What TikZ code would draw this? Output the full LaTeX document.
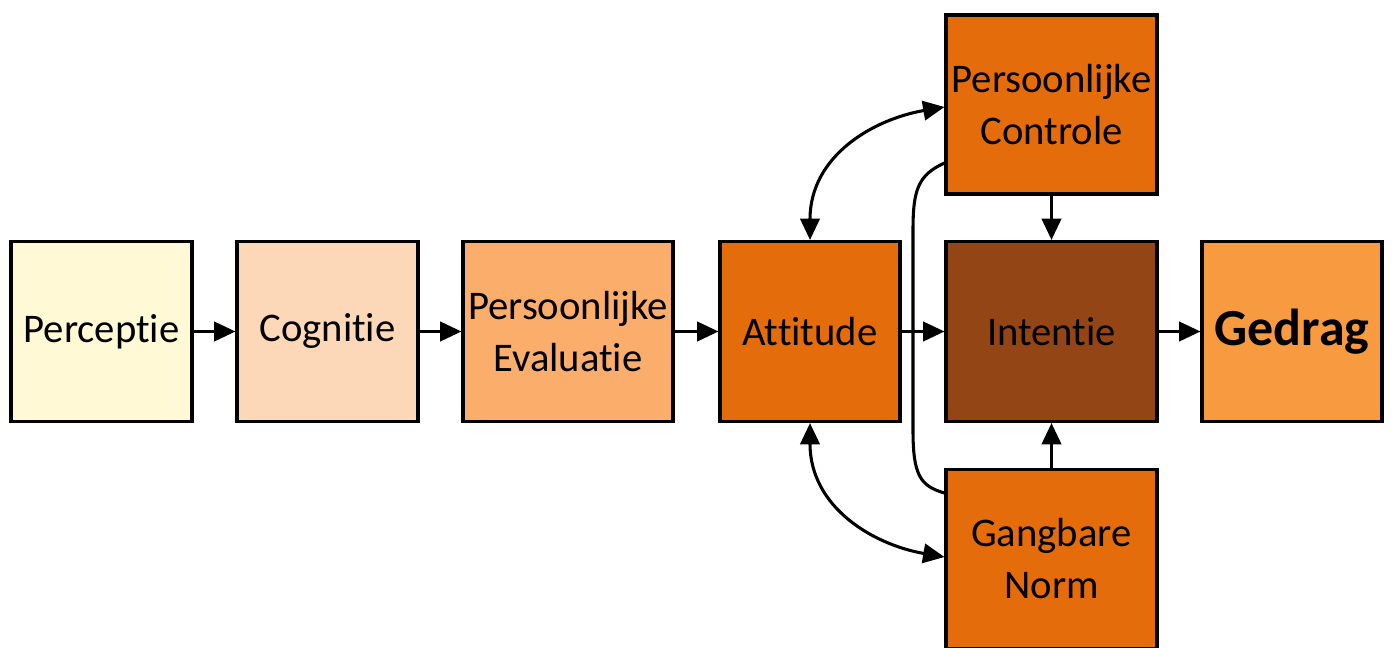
\documentclass[tikz,border=0pt]{standalone}
\usepackage{fontspec}
\setmainfont{Carlito}[RawFeature={-liga;-clig;-calt;-dlig}]
\usetikzlibrary{arrows.meta}
\definecolor{cPer}{HTML}{FFF9D6}
\definecolor{cCog}{HTML}{FCD7B8}
\definecolor{cEva}{HTML}{FBAD6C}
\definecolor{cAtt}{HTML}{E46C0A}
\definecolor{cInt}{HTML}{934516}
\definecolor{cGed}{HTML}{F79A40}
\tikzset{
  box/.style={draw=black, line width=2.3pt, inner sep=0pt, align=center,
    font=\fontsize{30.5}{39}\selectfont, minimum height=135pt},
  arr/.style={line width=2.3pt, -{Triangle[length=16pt,width=14.5pt]}},
  darr/.style={line width=2.3pt, {Triangle[length=16pt,width=14.5pt]}-{Triangle[length=16pt,width=14.5pt]}},
  plain/.style={line width=2.3pt}
}
\begin{document}
\begin{tikzpicture}[x=0.75pt,y=-0.75pt]
\useasboundingbox (0,0) rectangle (1392,648);
\begin{scope}
\clip (0,0) rectangle (1392,648);
\node[box, fill=cPer, minimum width=135.75pt] (per) at (101.5,331.5) {Perceptie};
\node[box, fill=cCog, minimum width=135.75pt] (cog) at (327.5,331.5) {Cognitie};
\node[box, fill=cEva, minimum width=157.5pt] (eva) at (568,331.5) {Persoonlijke\\Evaluatie};
\node[box, fill=cAtt, minimum width=135pt] (att) at (810,331.5) {Attitude};
\node[box, fill=cInt, minimum width=158.25pt] (int) at (1051.5,331.5) {Intentie};
\node[box, fill=cGed, minimum width=135pt, font=\fontsize{39}{45}\selectfont\bfseries] (ged) at (1292,331.5) {Gedrag};
\node[box, fill=cAtt, minimum width=158.25pt, minimum height=134.25pt] (ctl) at (1051.5,104.5) {Persoonlijke\\Controle};
\node[box, fill=cAtt, minimum width=158.25pt, minimum height=134.25pt] (nrm) at (1051.5,559) {Gangbare\\Norm};
\end{scope}
\draw[arr] (per) -- (cog);
\draw[arr] (cog) -- (eva);
\draw[arr] (eva) -- (att);
\draw[arr] (att) -- (int);
\draw[arr] (int) -- (ged);
\draw[arr] (ctl) -- (int);
\draw[arr] (nrm) -- (int);
\draw[darr] (att.north) .. controls +(0,-85) and +(-70,12) .. (ctl.west |- 0,107);
\draw[darr] (att.south) .. controls +(0,85) and +(-70,-12) .. (nrm.west |- 0,557);
\coordinate (ca) at (ctl.west |- 0,163);
\coordinate (cb) at (nrm.west |- 0,493);
\draw[plain] (ca) .. controls (918,175) and (913,190) .. (913,230) -- (913,430) .. controls (913,475) and (920,486) .. (cb);
\end{tikzpicture}
\end{document}
